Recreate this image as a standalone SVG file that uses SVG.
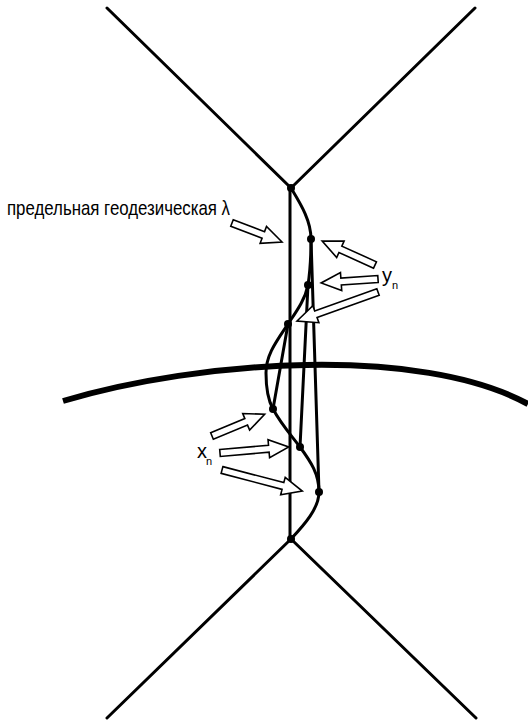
<svg xmlns="http://www.w3.org/2000/svg" width="528" height="721" viewBox="0 0 528 721">
<style>
.ln{fill:none;stroke:#000;stroke-width:3;stroke-linecap:round;stroke-linejoin:round}
.earth{fill:none;stroke:#000;stroke-width:6}
.dot{fill:#000}
.arr{fill:#fff;stroke:#000;stroke-width:1.6;stroke-linejoin:miter}
.lbl{font-family:"Liberation Sans",Arial,sans-serif;fill:#000}
</style>
<rect width="528" height="721" fill="#fff"/>
<g id="earth">
<path class="earth" d="M63,401 C200,360 420,345 528,404"/>
</g>
<g id="connectors">
<path class="ln" d="M107,8 L291,188 L475,8"/>
<path class="ln" d="M107,718 L291,539 L476,718"/>
<path class="ln" d="M290,188 L290,539"/>
<path class="ln" d="M291,188 C300,203 311,220 311,239 C311,255 310,272 308,285 C305,300 296,312 288,324 C276,342 266,355 266,373 C266,390 268,400 273,409 C281,424 291,435 300,447 C311,462 319,474 319,492 C319,508 305,524 291,539"/>
<path class="ln" d="M288,324 L273,409"/>
<path class="ln" d="M308,285 L300,447"/>
<path class="ln" d="M311,239 L319,492"/>
</g>
<g id="points">
<circle class="dot" cx="291" cy="188" r="4"/>
<circle class="dot" cx="311" cy="239" r="4"/>
<circle class="dot" cx="308" cy="285" r="4"/>
<circle class="dot" cx="288" cy="324" r="4"/>
<circle class="dot" cx="273" cy="409" r="4"/>
<circle class="dot" cx="300" cy="447" r="4"/>
<circle class="dot" cx="319" cy="492" r="4"/>
<circle class="dot" cx="291" cy="539" r="4"/>
</g>
<g id="arrows">
<path class="arr" transform="translate(232,223) rotate(20.8)" d="M0,-3.5 L33.5,-3.5 L33.5,-9 L53.5,0 L33.5,9 L33.5,3.5 L0,3.5 Z"/>
<path class="arr" transform="translate(375,265) rotate(204.4)" d="M0,-3.5 L38,-3.5 L38,-9 L58,0 L38,9 L38,3.5 L0,3.5 Z"/>
<path class="arr" transform="translate(378,279) rotate(176)" d="M0,-3.5 L37,-3.5 L37,-9 L57,0 L37,9 L37,3.5 L0,3.5 Z"/>
<path class="arr" transform="translate(378,292) rotate(160.3)" d="M0,-3.5 L66,-3.5 L66,-9 L86,0 L66,9 L66,3.5 L0,3.5 Z"/>
<path class="arr" transform="translate(212,436) rotate(-22.5)" d="M0,-3.5 L37,-3.5 L37,-9 L57,0 L37,9 L37,3.5 L0,3.5 Z"/>
<path class="arr" transform="translate(220,453) rotate(-5)" d="M0,-3.5 L49,-3.5 L49,-9 L69,0 L49,9 L49,3.5 L0,3.5 Z"/>
<path class="arr" transform="translate(222,470) rotate(14.7)" d="M0,-3.5 L63,-3.5 L63,-9 L83,0 L63,9 L63,3.5 L0,3.5 Z"/>
</g>
<g id="label-lambda">
<text class="lbl" x="7" y="215" font-size="21" textLength="223" lengthAdjust="spacingAndGlyphs">предельная геодезическая λ</text>
</g>
<g id="label-y">
<text class="lbl" x="382" y="282" font-size="20">y</text>
<text class="lbl" x="392" y="289" font-size="11">n</text>
</g>
<g id="label-x">
<text class="lbl" x="197" y="458" font-size="20">x</text>
<text class="lbl" x="206" y="465" font-size="11">n</text>
</g>
</svg>
